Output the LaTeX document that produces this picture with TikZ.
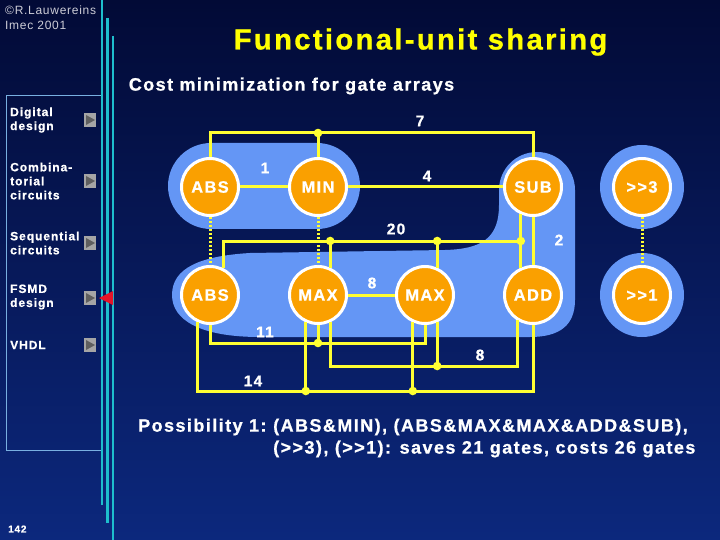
\documentclass[tikz,border=0pt]{standalone}
\usepackage{fontspec}
\setmainfont{Liberation Sans}
\newfontfamily\lsfont[LetterSpace=8, BoldFeatures={FakeBold=0.8}]{Liberation Sans}
\newfontfamily\lsplain[LetterSpace=6]{Liberation Sans}
\usetikzlibrary{calc}
\definecolor{orangeU}{RGB}{250,160,0}
\definecolor{blobC}{RGB}{100,150,245}
\definecolor{yellowW}{RGB}{255,255,50}
\definecolor{cyanL}{RGB}{30,190,205}
\definecolor{boxL}{RGB}{120,175,225}
\definecolor{bgTop}{RGB}{2,10,54}
\definecolor{bgBot}{RGB}{12,40,125}
\definecolor{titleY}{RGB}{255,255,0}
\definecolor{redT}{RGB}{230,20,40}
\definecolor{btnG}{RGB}{165,165,165}
\definecolor{btnD}{RGB}{95,95,95}
\definecolor{greyT}{RGB}{205,205,215}
\newcommand\titlefnt{\lsfont\bfseries\fontsize{29.2}{32}\selectfont}
\newcommand\subfnt{\lsfont\bfseries\fontsize{18}{20}\selectfont}
\newcommand\possfnt{\lsfont\bfseries\fontsize{18}{22}\selectfont}
\newcommand\unitfnt{\lsfont\bfseries\fontsize{16.5}{18}\selectfont}
\newcommand\numfnt{\lsfont\bfseries\fontsize{15.5}{18}\selectfont}
\newcommand\menufnt{\lsfont\bfseries\fontsize{12}{14}\selectfont}
\newcommand\copyfnt{\lsplain\fontsize{12}{15}\selectfont}
\tikzset{
  unit/.style={circle, fill=orangeU, draw=white, line width=3pt, minimum size=57pt, inner sep=0pt, text=white, font=\unitfnt},
  wire/.style={draw=yellowW, line width=3pt},
  dotwire/.style={draw=yellowW, line width=3pt, dash pattern=on 2.4pt off 1.6pt},
  num/.style={text=white, font=\numfnt, inner sep=0pt},
  menu/.style={text=white, font=\menufnt, inner sep=0pt, anchor=west, align=left},
  blob/.style={fill=blobC},
  junc/.style={fill=yellowW},
  btnpic/.pic={\fill[btnG] (-6,-7) rectangle (6,7); \fill[btnD] (-4,-5) -- (5,0) -- (-4,5) -- cycle;}
}
\begin{document}
\begin{tikzpicture}[x=1pt,y=-1pt]
\useasboundingbox (0,0) rectangle (720,540);
\shade[top color=bgTop, bottom color=bgBot] (0pt,0pt) rectangle (720pt,-540pt);
% left panel
\draw[boxL, line width=1pt] (102,96) -- (6,96) -- (6,450) -- (102,450);
\draw[cyanL, line width=2.8pt] (102,0) -- (102,505);
\draw[cyanL, line width=2.8pt] (107.5,18) -- (107.5,523);
\draw[cyanL, line width=2.8pt] (113,36) -- (113,540);
\fill[redT] (99,298) -- (113,291) -- (113,305) -- cycle;
\node[anchor=west, text=greyT, font=\copyfnt, inner sep=0pt] (copy1) at (5,10) {©R.Lauwereins};
\node[anchor=west, text=greyT, font=\copyfnt, inner sep=0pt] (copy2) at (5,25) {Imec 2001};
\node[menu] (m1) at (10,120) {Digital\\design};
\node[menu] (m2) at (10,181) {Combina-\\torial\\circuits};
\node[menu] (m3) at (10,243) {Sequential\\circuits};
\node[menu] (m4) at (10,297) {FSMD\\design};
\node[menu] (m5) at (10,345) {VHDL};
\pic at (90,120) {btnpic};
\pic at (90,181) {btnpic};
\pic at (90,243) {btnpic};
\pic at (90,298) {btnpic};
\pic at (90,345) {btnpic};
\node[anchor=west, text=white, font=\lsfont\bfseries\fontsize{10}{12}\selectfont, inner sep=0pt] (pg) at (8,529) {142};
% titles
\node[text=titleY, font=\titlefnt, inner sep=0pt] (title) at (420.5,42) {Functional-unit sharing};
\node[text=white, font=\subfnt, inner sep=0pt] (subtitle) at (291.5,86) {Cost minimization for gate arrays};
% blobs
\fill[blob, rounded corners=43pt] (168,143) rectangle (360,229);
\fill[blob] (642,187) circle (42pt);
\fill[blob] (642,295) circle (42pt);
\fill[blob] (172,295) .. controls (172,268) and (200,256) .. (250,253) -- (445,250)
  .. controls (482,249) and (499,238) .. (499,205) -- (499,190)
  .. controls (499,169) and (516,152) .. (537,152) .. controls (558,152) and (575,169) .. (575,190)
  -- (575,300) .. controls (575,325) and (560,337) .. (530,337) -- (260,337)
  .. controls (200,337) and (172,320) .. (172,295) -- cycle;
% units
\node[unit] (abs1) at (210,187) {ABS};
\node[unit] (min) at (318,187) {MIN};
\node[unit] (sub) at (533,187) {SUB};
\node[unit] (sh3) at (642,187) {>{}>3};
\node[unit] (abs2) at (210,295) {ABS};
\node[unit] (max1) at (318,295) {MAX};
\node[unit] (max2) at (425,295) {MAX};
\node[unit] (add) at (533,295) {ADD};
\node[unit] (sh1) at (642,295) {>{}>1};
% rails
\coordinate (r7) at (0,133);
\coordinate (r20) at (0,241);
\coordinate (r11) at (0,343);
\coordinate (r8) at (0,366);
\coordinate (r14) at (0,391);
\coordinate (j7) at (min.north |- r7);
\coordinate (j20a) at (max1.66 |- r20);
\coordinate (j20b) at (max2.66 |- r20);
\coordinate (j20c) at (sub.246 |- r20);
\coordinate (j11) at (max1.south |- r11);
\coordinate (j8) at (max2.294 |- r8);
\coordinate (j14a) at (max1.246 |- r14);
\coordinate (j14b) at (max2.246 |- r14);
% dotted
\draw[dotwire] (abs1.south) -- (abs2.north);
\draw[dotwire] (min.south) -- (max1.north);
\draw[dotwire] (sh3.south) -- (sh1.north);
% wires
\draw[wire] (abs1.north) |- (j7) -| (sub.north);
\draw[wire] (j7) -- (min.north);
\draw[wire] (abs1.east) -- (min.west);
\draw[wire] (min.east) -- (sub.west);
\draw[wire] (abs2.64) |- (j20c);
\draw[wire] (j20a) -- (max1.66);
\draw[wire] (j20b) -- (max2.66);
\draw[wire] (sub.246) -- (add.114);
\draw[wire] (sub.south) -- (add.north);
\draw[wire] (max1.east) -- (max2.west);
\draw[wire] (abs2.south) |- (j11) -| (max2.south);
\draw[wire] (j11) -- (max1.south);
\draw[wire] (max1.294) |- (j8) -| (add.238);
\draw[wire] (j8) -- (max2.294);
\draw[wire] (abs2.246) |- (j14a) -- (j14b) -| (add.south);
\draw[wire] (j14a) -- (max1.246);
\draw[wire] (j14b) -- (max2.246);
\foreach \j in {j7,j20a,j20b,j20c,j11,j8,j14a,j14b} \fill[junc] (\j) circle (4.3pt);
% numbers
\node[num] (n7) at (420,121) {7};
\node[num] (n1) at (265,168) {1};
\node[num] (n4) at (427,176) {4};
\node[num] (n20) at (396,229) {20};
\node[num] (n2) at (559,240) {2};
\node[num] (n8a) at (372,283) {8};
\node[num] (n11) at (265,332) {11};
\node[num] (n8b) at (480,355) {8};
\node[num] (n14) at (253,381) {14};
% bottom text
\node[anchor=west, text=white, font=\possfnt, inner sep=0pt] (poss) at (138,427) {Possibility 1:};
\node[anchor=west, text=white, font=\possfnt, inner sep=0pt] (pl1) at (273,427) {(ABS\&MIN), (ABS\&MAX\&MAX\&ADD\&SUB),};
\node[anchor=west, text=white, font=\possfnt, inner sep=0pt] (pl2) at (273,449) {(>{}>3), (>{}>1): saves 21 gates, costs 26 gates};
\end{tikzpicture}
\end{document}
